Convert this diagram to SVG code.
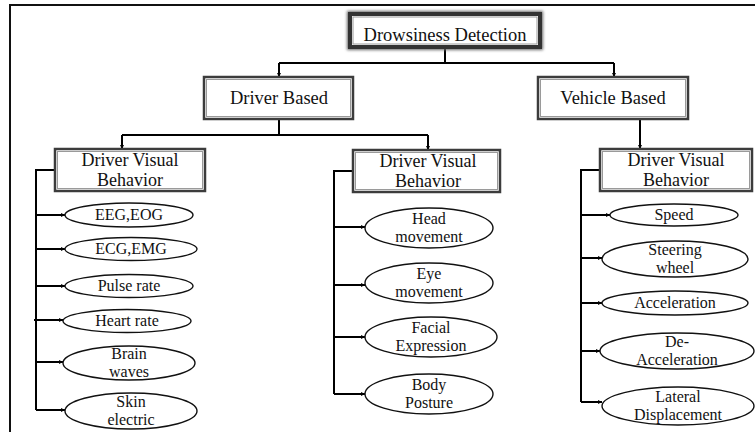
<svg xmlns="http://www.w3.org/2000/svg" width="755" height="432" viewBox="0 0 755 432">
<style>
.bt{font-size:18.5px}
.bt2{font-size:18px}
.et{font-size:16px}
.box{fill:#fff;stroke:#3c3c3c;stroke-width:2.5}
.inner{fill:none;stroke:#9a9a9a;stroke-width:1}
.ell{fill:#fff;stroke:#111;stroke-width:1.4}
.con{fill:none;stroke:#000;stroke-width:2}
</style>
<defs>
<marker id="ah" viewBox="0 0 10 10" refX="10" refY="5" markerWidth="4" markerHeight="4" orient="auto" markerUnits="userSpaceOnUse">
<path d="M0,0 L10,5 L0,10 z" fill="#000"/>
</marker>
<filter id="sh" x="-10%" y="-30%" width="120%" height="160%">
<feGaussianBlur stdDeviation="1.5"/>
</filter>
</defs>
<rect width="755" height="432" fill="#fff"/>
<path d="M10,432 V5 H755" fill="none" stroke="#111" stroke-width="2"/>

<g id="connectors">
<path class="con" d="M445,47 V63 M279,63 H614"/>
<path class="con" d="M279,63 V77" marker-end="url(#ah)"/>
<path class="con" d="M614,63 V77" marker-end="url(#ah)"/>
<path class="con" d="M279,119 V135 M122,135 H428"/>
<path class="con" d="M122,135 V149" marker-end="url(#ah)"/>
<path class="con" d="M428,135 V150" marker-end="url(#ah)"/>
<path class="con" d="M640,119 V149" marker-end="url(#ah)"/>
<path class="con" d="M55,170 H36 V410"/>
<path class="con" d="M36,215 H65" marker-end="url(#ah)"/>
<path class="con" d="M36,249 H65" marker-end="url(#ah)"/>
<path class="con" d="M36,286 H65" marker-end="url(#ah)"/>
<path class="con" d="M34,320 H63" marker-end="url(#ah)"/>
<path class="con" d="M36,362 H63" marker-end="url(#ah)"/>
<path class="con" d="M36,410 H65" marker-end="url(#ah)"/>
<path class="con" d="M353,171 H334 V394"/>
<path class="con" d="M334,227 H365" marker-end="url(#ah)"/>
<path class="con" d="M334,285 H365" marker-end="url(#ah)"/>
<path class="con" d="M334,337 H365" marker-end="url(#ah)"/>
<path class="con" d="M334,394 H365" marker-end="url(#ah)"/>
<path class="con" d="M600,170 H581 V402"/>
<path class="con" d="M581,215 H610" marker-end="url(#ah)"/>
<path class="con" d="M581,258 H602" marker-end="url(#ah)"/>
<path class="con" d="M581,303 H602" marker-end="url(#ah)"/>
<path class="con" d="M581,351 H600" marker-end="url(#ah)"/>
<path class="con" d="M581,402 H602" marker-end="url(#ah)"/>
</g>

<g font-family="Liberation Serif, DejaVu Serif, serif" fill="#111" text-anchor="middle">
<g id="drowsiness-detection">
<rect x="350" y="14" width="190" height="33" fill="none" stroke="#666" stroke-width="6" filter="url(#sh)"/>
<rect x="350" y="14" width="190" height="33" fill="#fff" stroke="#333" stroke-width="4"/>
<rect x="353" y="17" width="184" height="27" class="inner"/>
<text class="bt" x="445" y="41">Drowsiness Detection</text>
</g>

<g id="driver-based">
<rect x="204" y="77" width="149" height="42" class="box"/>
<rect x="206.5" y="79.5" width="144" height="37" class="inner"/>
<text class="bt" x="279" y="104">Driver Based</text>
</g>

<g id="vehicle-based">
<rect x="538" y="77" width="150" height="42" class="box"/>
<rect x="540.5" y="79.5" width="145" height="37" class="inner"/>
<text class="bt" x="613" y="104">Vehicle Based</text>
</g>

<g id="dvb-left">
<rect x="55" y="149" width="150" height="42" class="box"/>
<rect x="57.5" y="151.5" width="145" height="37" class="inner"/>
<text class="bt2" x="130" y="166">Driver Visual</text>
<text class="bt2" x="130" y="185.5">Behavior</text>
</g>

<g id="dvb-middle">
<rect x="353" y="150" width="147" height="42" class="box"/>
<rect x="355.5" y="152.5" width="142" height="37" class="inner"/>
<text class="bt2" x="428" y="167">Driver Visual</text>
<text class="bt2" x="428" y="186.5">Behavior</text>
</g>

<g id="dvb-right">
<rect x="600" y="149" width="152" height="42" class="box"/>
<rect x="602.5" y="151.5" width="147" height="37" class="inner"/>
<text class="bt2" x="676" y="166">Driver Visual</text>
<text class="bt2" x="676" y="185.5">Behavior</text>
</g>

<g id="eeg-eog">
<ellipse cx="129" cy="215" rx="64" ry="12" class="ell"/>
<text class="et" x="129" y="220">EEG,EOG</text>
</g>
<g id="ecg-emg">
<ellipse cx="131" cy="249" rx="66" ry="11.5" class="ell"/>
<text class="et" x="131" y="254">ECG,EMG</text>
</g>
<g id="pulse-rate">
<ellipse cx="129" cy="286" rx="64" ry="11.5" class="ell"/>
<text class="et" x="129" y="291">Pulse rate</text>
</g>
<g id="heart-rate">
<ellipse cx="127" cy="321" rx="64" ry="11.5" class="ell"/>
<text class="et" x="127" y="326">Heart rate</text>
</g>
<g id="brain-waves">
<ellipse cx="129" cy="363" rx="66" ry="17" class="ell"/>
<text class="et" x="129" y="359">Brain</text>
<text class="et" x="129" y="377">waves</text>
</g>
<g id="skin-electric">
<ellipse cx="131" cy="411" rx="66" ry="18" class="ell"/>
<text class="et" x="131" y="407">Skin</text>
<text class="et" x="131" y="425">electric</text>
</g>

<g id="head-movement">
<ellipse cx="429" cy="228" rx="64" ry="20" class="ell"/>
<text class="et" x="429" y="224">Head</text>
<text class="et" x="429" y="242">movement</text>
</g>
<g id="eye-movement">
<ellipse cx="429" cy="283" rx="64" ry="20" class="ell"/>
<text class="et" x="429" y="279">Eye</text>
<text class="et" x="429" y="297">movement</text>
</g>
<g id="facial-expression">
<ellipse cx="431" cy="337" rx="66" ry="20" class="ell"/>
<text class="et" x="431" y="333">Facial</text>
<text class="et" x="431" y="351">Expression</text>
</g>
<g id="body-posture">
<ellipse cx="429" cy="394" rx="64" ry="20" class="ell"/>
<text class="et" x="429" y="390">Body</text>
<text class="et" x="429" y="408">Posture</text>
</g>

<g id="speed">
<ellipse cx="674" cy="215" rx="64" ry="11" class="ell"/>
<text class="et" x="674" y="220">Speed</text>
</g>
<g id="steering-wheel">
<ellipse cx="675" cy="259" rx="73" ry="18" class="ell"/>
<text class="et" x="675" y="255">Steering</text>
<text class="et" x="675" y="273">wheel</text>
</g>
<g id="acceleration">
<ellipse cx="675" cy="303" rx="73" ry="12" class="ell"/>
<text class="et" x="675" y="308">Acceleration</text>
</g>
<g id="de-acceleration">
<ellipse cx="677" cy="351" rx="77" ry="18" class="ell"/>
<text class="et" x="677" y="347">De-</text>
<text class="et" x="677" y="365">Acceleration</text>
</g>
<g id="lateral-displacement">
<ellipse cx="678" cy="406" rx="76" ry="19" class="ell"/>
<text class="et" x="678" y="402">Lateral</text>
<text class="et" x="678" y="420">Displacement</text>
</g>
</g>
</svg>
